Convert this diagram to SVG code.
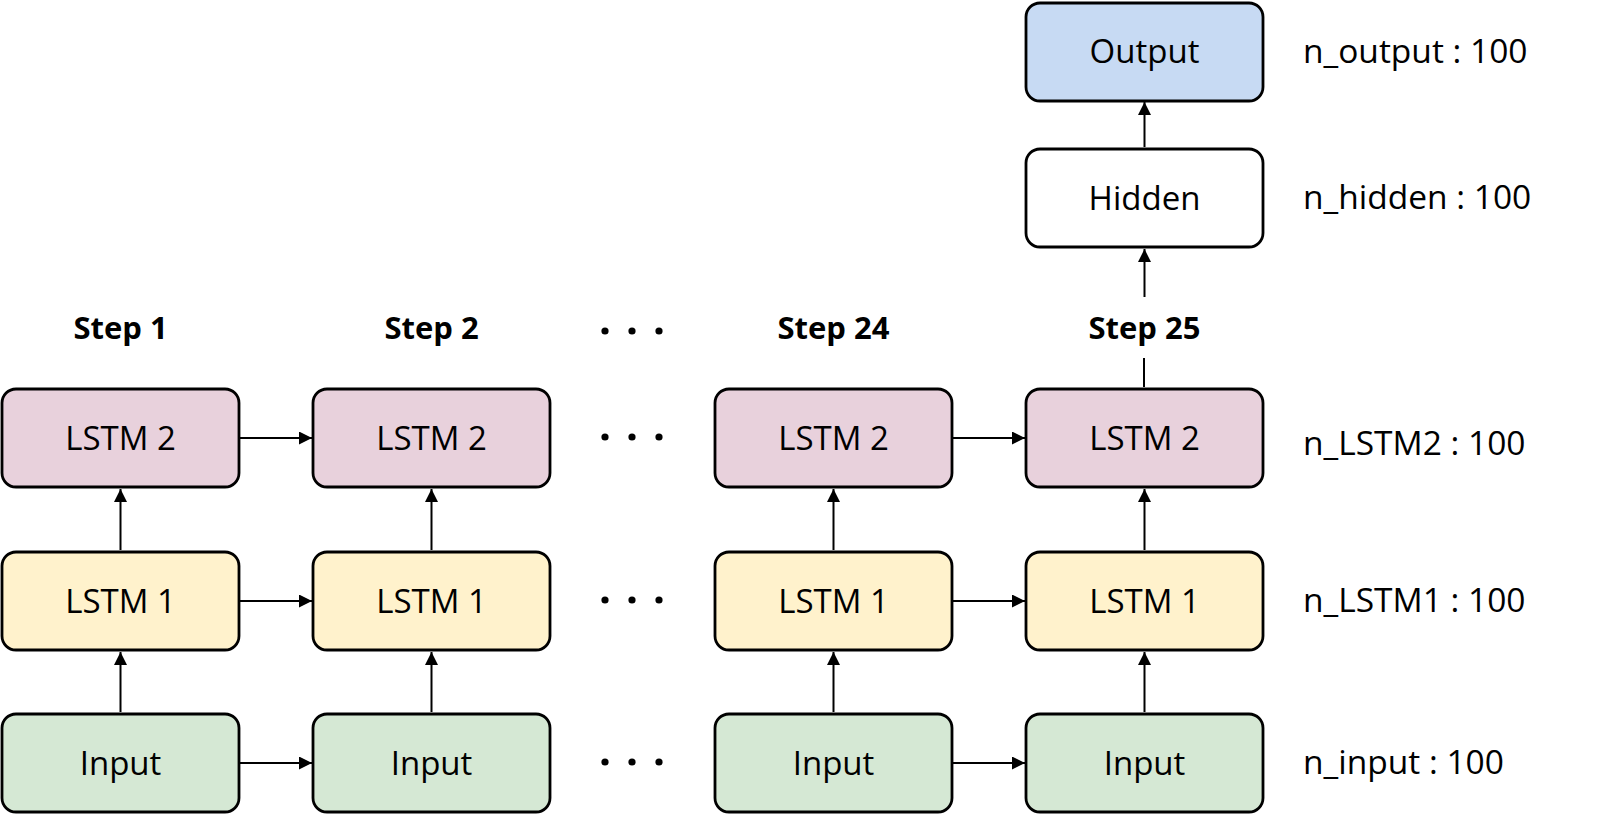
<svg xmlns="http://www.w3.org/2000/svg" width="1599" height="815" viewBox="0 0 1599 815">
<style>
.box{stroke:#000;stroke-width:2.8}
.lstm2{fill:#E8D1DC}
.lstm1{fill:#FFF2CC}
.inp{fill:#D5E8D4}
.out{fill:#C7DAF3}
.hid{fill:#FFFFFF}
.lbl{font-family:"Open Sans","Noto Sans",sans-serif;font-size:33px;fill:#000;text-anchor:middle}
.side{font-family:"Open Sans","Noto Sans",sans-serif;font-size:33.5px;fill:#000}
.step{font-family:"Open Sans","Noto Sans",sans-serif;font-size:31px;font-weight:bold;fill:#000;text-anchor:middle}
.conn{stroke:#000;stroke-width:2;fill:none}
</style>
<defs>
<marker id="arr" markerUnits="userSpaceOnUse" markerWidth="13" markerHeight="13" viewBox="0 0 12 12" refX="12" refY="6" orient="auto">
<path d="M0,0 L12,6 L0,12 Z" fill="#000"/>
</marker>
</defs>

<g id="connectors">
<line class="conn" x1="240" y1="438" x2="312" y2="438" marker-end="url(#arr)"/>
<line class="conn" x1="952" y1="438" x2="1025" y2="438" marker-end="url(#arr)"/>
<line class="conn" x1="240" y1="601" x2="312" y2="601" marker-end="url(#arr)"/>
<line class="conn" x1="952" y1="601" x2="1025" y2="601" marker-end="url(#arr)"/>
<line class="conn" x1="240" y1="763" x2="312" y2="763" marker-end="url(#arr)"/>
<line class="conn" x1="952" y1="763" x2="1025" y2="763" marker-end="url(#arr)"/>

<line class="conn" x1="120.5" y1="712" x2="120.5" y2="652" marker-end="url(#arr)"/>
<line class="conn" x1="431.5" y1="712" x2="431.5" y2="652" marker-end="url(#arr)"/>
<line class="conn" x1="833.5" y1="712" x2="833.5" y2="652" marker-end="url(#arr)"/>
<line class="conn" x1="1144.5" y1="712" x2="1144.5" y2="652" marker-end="url(#arr)"/>

<line class="conn" x1="120.5" y1="550" x2="120.5" y2="489" marker-end="url(#arr)"/>
<line class="conn" x1="431.5" y1="550" x2="431.5" y2="489" marker-end="url(#arr)"/>
<line class="conn" x1="833.5" y1="550" x2="833.5" y2="489" marker-end="url(#arr)"/>
<line class="conn" x1="1144.5" y1="550" x2="1144.5" y2="489" marker-end="url(#arr)"/>

<line class="conn" x1="1144" y1="387" x2="1144" y2="358"/>
<line class="conn" x1="1144.5" y1="297" x2="1144.5" y2="249" marker-end="url(#arr)"/>
<line class="conn" x1="1144.5" y1="147" x2="1144.5" y2="102" marker-end="url(#arr)"/>
</g>

<g id="output">
<rect class="box out" x="1026" y="3" width="237" height="98" rx="14"/>
<text class="lbl" x="1144.5" y="63">Output</text>
</g>
<g id="hidden">
<rect class="box hid" x="1026" y="149" width="237" height="98" rx="14"/>
<text class="lbl" x="1144.5" y="210">Hidden</text>
</g>

<g id="lstm2-1"><rect class="box lstm2" x="2" y="389" width="237" height="98" rx="14"/><text class="lbl" x="120.5" y="450">LSTM 2</text></g>
<g id="lstm2-2"><rect class="box lstm2" x="313" y="389" width="237" height="98" rx="14"/><text class="lbl" x="431.5" y="450">LSTM 2</text></g>
<g id="lstm2-24"><rect class="box lstm2" x="715" y="389" width="237" height="98" rx="14"/><text class="lbl" x="833.5" y="450">LSTM 2</text></g>
<g id="lstm2-25"><rect class="box lstm2" x="1026" y="389" width="237" height="98" rx="14"/><text class="lbl" x="1144.5" y="450">LSTM 2</text></g>

<g id="lstm1-1"><rect class="box lstm1" x="2" y="552" width="237" height="98" rx="14"/><text class="lbl" x="120.5" y="613">LSTM 1</text></g>
<g id="lstm1-2"><rect class="box lstm1" x="313" y="552" width="237" height="98" rx="14"/><text class="lbl" x="431.5" y="613">LSTM 1</text></g>
<g id="lstm1-24"><rect class="box lstm1" x="715" y="552" width="237" height="98" rx="14"/><text class="lbl" x="833.5" y="613">LSTM 1</text></g>
<g id="lstm1-25"><rect class="box lstm1" x="1026" y="552" width="237" height="98" rx="14"/><text class="lbl" x="1144.5" y="613">LSTM 1</text></g>

<g id="input-1"><rect class="box inp" x="2" y="714" width="237" height="98" rx="14"/><text class="lbl" x="120.5" y="775">Input</text></g>
<g id="input-2"><rect class="box inp" x="313" y="714" width="237" height="98" rx="14"/><text class="lbl" x="431.5" y="775">Input</text></g>
<g id="input-24"><rect class="box inp" x="715" y="714" width="237" height="98" rx="14"/><text class="lbl" x="833.5" y="775">Input</text></g>
<g id="input-25"><rect class="box inp" x="1026" y="714" width="237" height="98" rx="14"/><text class="lbl" x="1144.5" y="775">Input</text></g>

<g id="steps">
<text class="step" x="120.5" y="339">Step 1</text>
<text class="step" x="431.5" y="339">Step 2</text>
<text class="step" x="833.5" y="339">Step 24</text>
<text class="step" x="1144.5" y="339">Step 25</text>
</g>

<g id="ellipses" fill="#000">
<circle cx="605" cy="331" r="3.6"/><circle cx="632" cy="331" r="3.6"/><circle cx="659" cy="331" r="3.6"/>
<circle cx="605" cy="437" r="3.6"/><circle cx="632" cy="437" r="3.6"/><circle cx="659" cy="437" r="3.6"/>
<circle cx="605" cy="600" r="3.6"/><circle cx="632" cy="600" r="3.6"/><circle cx="659" cy="600" r="3.6"/>
<circle cx="605" cy="762" r="3.6"/><circle cx="632" cy="762" r="3.6"/><circle cx="659" cy="762" r="3.6"/>
</g>

<g id="sizes">
<text class="side" x="1303" y="63">n_output : 100</text>
<text class="side" x="1303" y="209">n_hidden : 100</text>
<text class="side" x="1303" y="455">n_LSTM2 : 100</text>
<text class="side" x="1303" y="612">n_LSTM1 : 100</text>
<text class="side" x="1303" y="774">n_input : 100</text>
</g>
</svg>
